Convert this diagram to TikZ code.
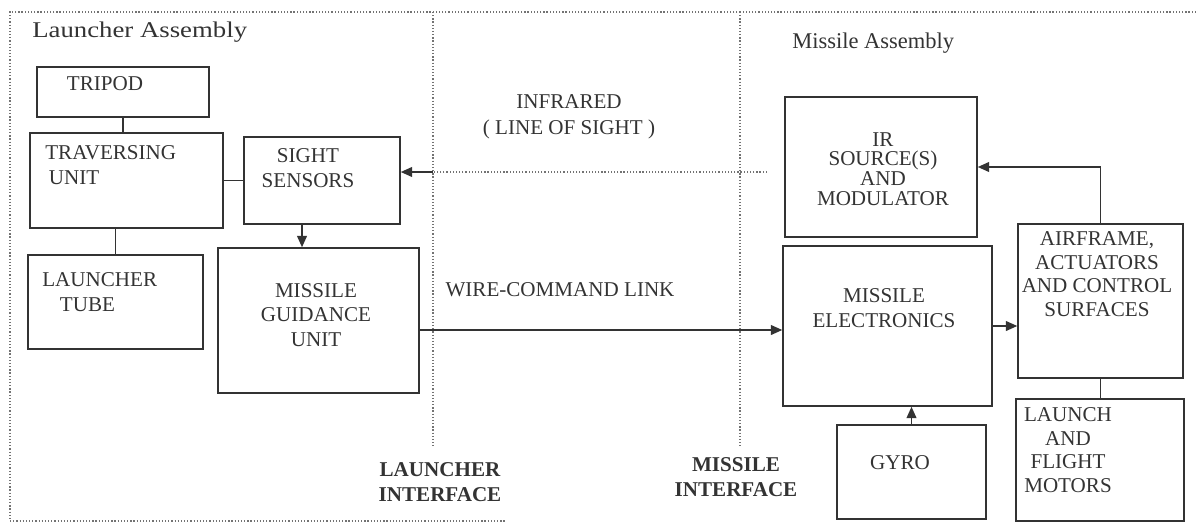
\documentclass[tikz,border=0pt]{standalone}
\usepackage{fontspec}
\setmainfont{Liberation Serif}
\usepackage{tikz}
\usetikzlibrary{arrows.meta, positioning, fit}
\definecolor{ink}{gray}{0.2}
\definecolor{dotink}{gray}{0.45}
\tikzset{
  blk/.style={draw=ink, line width=0.8pt, inner sep=0pt},
  txt/.style={text=ink, font=\fontsize{12}{14}\selectfont, align=center, inner sep=0pt},
  head/.style={text=ink, font=\fontsize{12.8}{15}\selectfont, inner sep=0pt},
  ifc/.style={text=ink, font=\fontsize{12}{14}\selectfont\bfseries, align=center, inner sep=0pt},
  link/.style={draw=ink, line width=1pt},
  arr/.style={draw=ink, line width=1.1pt, -{Triangle[length=6.5pt,width=5.5pt]}},
  dotline/.style={draw=dotink, line width=0.7pt, dash pattern=on 0.7pt off 1.1pt},
}
\begin{document}
\begin{tikzpicture}[x=0.02cm, y=-0.02cm]
    \useasboundingbox (0,0) rectangle (1196,524);
    %% frame and interfaces
    \draw[dotline] (1196,12) -- (10,12) -- (10,521) -- (505,521);
    \coordinate (lif) at (433,12);
    \coordinate (mif) at (740,12);
    \draw[dotline] (lif) -- (433,448);
    \draw[dotline] (mif) -- (740,448);
    %% headings
    \node[head, anchor=base west] (lhd) at (32,37) {\scalebox{1.19}[1]{Launcher Assembly}};
    \node[head, anchor=base west] (mhd) at (792,48) {Missile Assembly};
    %% launcher blocks
    \node[blk, fit={(37,67) (209,117)}] (tripod) {};
    \node[blk, fit={(30,133) (223,228)}] (trav) {};
    \node[blk, fit={(244,137) (400,224)}] (sight) {};
    \node[blk, fit={(28,255) (203,349)}] (tube) {};
    \node[blk, fit={(218,248) (419,393)}] (guid) {};
    \node[txt] (tripodT) at (105,84) {TRIPOD};
    \node[txt, anchor=west, align=left] (travT) at (45,165) {TRAVERSING\\\hspace*{2pt}UNIT};
    \node[txt] (sightT) at (308,168) {SIGHT\\SENSORS};
    \node[txt, anchor=west, align=left] (tubeT) at (42,292) {LAUNCHER\\\hspace*{10pt}TUBE};
    \node[txt] (guidT) at (316,315) {MISSILE\\GUIDANCE\\UNIT};
    %% missile blocks
    \node[blk, fit={(785,97) (977,237)}] (ir) {};
    \node[blk, fit={(783,246) (992,406)}] (elec) {};
    \node[blk, fit={(1018,224) (1183,378)}] (air) {};
    \node[blk, fit={(1016,399) (1184,521)}] (launch) {};
    \node[blk, fit={(837,425) (986,519)}] (gyro) {};
    \node[txt, font=\fontsize{12}{11.3}\selectfont] (irT) at (883,169) {IR\\SOURCE(S)\\AND\\MODULATOR};
    \node[txt] (elecT) at (884,308) {MISSILE\\ELECTRONICS};
    \node[txt, font=\fontsize{12}{13.4}\selectfont] (airT) at (1097,274) {AIRFRAME,\\ACTUATORS\\AND CONTROL\\SURFACES};
    \node[txt, font=\fontsize{12}{13.4}\selectfont] (launchT) at (1068,450) {LAUNCH\\AND\\FLIGHT\\MOTORS};
    \node[txt] (gyroT) at (900,463) {GYRO};
    %% link labels
    \node[txt, font=\fontsize{12}{15}\selectfont] (infraT) at (569,117) {INFRARED\\( LINE OF SIGHT )};
    \node[txt] (wireT) at (560,290) {WIRE-COMMAND LINK};
    \node[ifc] (lifT) at (440,482) {LAUNCHER\\INTERFACE};
    \node[ifc] (mifT) at (736,477) {MISSILE\\INTERFACE};
    %% connectors
    \draw[link] (tripod.south) -- (tripod.south |- trav.north);
    \draw[link] (tube.north) -- (tube.north |- trav.south);
    \draw[link] (trav.east) -- (sight.west);
    \draw[arr] ([xshift=-0.4cm]sight.south) -- ([xshift=-0.4cm]sight.south |- guid.north);
    \coordinate (irsrc) at (767,172);
    \draw[dotline] (irsrc) -- (lif |- irsrc);
    \draw[arr] (lif |- irsrc) -- (sight.east |- irsrc);
    \draw[arr] ([yshift=-0.19cm]guid.east) -- ([yshift=-0.19cm]guid.east -| elec.west);
    \draw[arr] (elec.east) -- (elec.east -| air.west);
    \draw[arr] (air.north) |- (ir.east);
    \draw[link] (air.south) -- (air.south |- launch.north);
    \draw[arr] (gyro.north) -- (gyro.north |- elec.south);
\end{tikzpicture}
\end{document}
